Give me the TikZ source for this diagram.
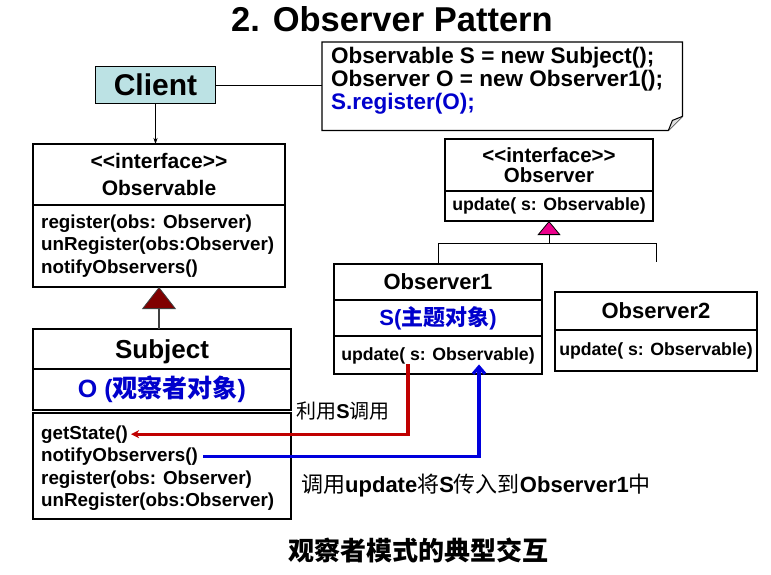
\documentclass[tikz,border=0pt]{standalone}
\usepackage{fontspec}
\setmainfont{Liberation Sans}
\newfontfamily\cjk{Noto Sans CJK SC}
\usetikzlibrary{arrows.meta, positioning}

\definecolor{clientteal}{RGB}{188,226,228}
\definecolor{umlred}{RGB}{128,0,0}
\definecolor{callred}{RGB}{192,0,0}
\definecolor{textblue}{RGB}{0,0,204}
\definecolor{lineblue}{RGB}{0,0,221}

\newcommand\setsz[2]{\fontsize{#1}{#2}\selectfont}
\newcommand\guil{<\kern0pt<interface>\kern0pt>}

\begin{document}
\begin{tikzpicture}[
  x=1pt, y=-1pt,
  classbox/.style={draw, line width=1.3pt, fill=white, inner sep=0pt, outer sep=0pt, align=center, font=\bfseries},
  methods/.style={inner sep=0pt, align=left, font=\bfseries\setsz{18.8}{22.5}},
  updtext/.style={inner sep=0pt, font=\bfseries\setsz{17.7}{20}},
  callline/.style={line width=3.2pt}
]
\useasboundingbox (0,0) rectangle (771,574);

\node[font=\bfseries\setsz{34.5}{34}] (title) at (392,19) {2. Observer Pattern};

% client and the code note
\node[draw, line width=1.3pt, fill=clientteal, minimum width=120pt, minimum height=37pt, font=\bfseries\setsz{30}{30}] (client) at (155.5,85) {Client};
\node[minimum width=360pt, minimum height=88pt, anchor=north west] (note) at (322,42) {};
\draw[line width=1.3pt] (note.north west) -- (note.north east) -- ([yshift=14pt]note.south east)
  -- ([xshift=-14pt]note.south east) -- (note.south west) -- cycle;
\draw[line width=1pt, fill=gray!25] ([xshift=-14pt]note.south east) -- ([xshift=-10pt,yshift=10pt]note.south east) -- ([yshift=14pt]note.south east);
\node[inner sep=0pt, anchor=north west, align=left, font=\bfseries\setsz{22.5}{23}] (code) at ([xshift=9pt,yshift=-5pt]note.north west)
  {Observable S = new Subject();\\Observer O = new Observer1();\\\textcolor{textblue}{S.register(O);}};
\draw[line width=1pt] (client.east) -- (client.east -| note.west);

% Observable interface
\node[classbox, anchor=north west, minimum width=252pt, minimum height=61pt, font=\bfseries\setsz{21}{27}] (obshead) at (33,144) {\guil\\Observable};
\node[classbox, below=0pt of obshead, minimum width=252pt, minimum height=82pt] (obsops) {};
\node[methods, anchor=west] (obsmeth) at ([xshift=8pt]obsops.west)
  {register(obs: Observer)\\unRegister(obs:Observer)\\notifyObservers()};
\draw[line width=1pt, -{Stealth[length=6pt, width=4pt]}] (client.south) -- (client.south |- obshead.north);

% Subject
\node[classbox, anchor=north west, minimum width=258pt, minimum height=40pt, text depth=0pt, font=\bfseries\setsz{26}{26}] (subjhead) at (33,329) {Subject};
\node[classbox, below=0pt of subjhead, minimum width=258pt, minimum height=41pt, font=\bfseries\setsz{25}{25}, text=textblue] (subjobs) {O ({\cjk 观察者对象})};
\node[classbox, below=3pt of subjobs, minimum width=258pt, minimum height=106pt] (subjops) {};
\node[methods, anchor=base west] (getstate) at ([xshift=8pt,yshift=-26pt]subjops.north west) {getState()};
\node[methods, anchor=base west] (notify) at ([yshift=-22.5pt]getstate.base west) {notifyObservers()};
\node[methods, anchor=base west] (register) at ([yshift=-22.5pt]notify.base west) {register(obs: Observer)};
\node[methods, anchor=base west] (unregister) at ([yshift=-22.5pt]register.base west) {unRegister(obs:Observer)};
\draw[line width=2pt, black!75, -{Triangle[length=22pt, width=34pt, fill=umlred, line width=0.8pt]}]
  (obsops.south |- subjhead.north) -- (obsops.south);

% Observer interface
\node[classbox, anchor=north west, minimum width=208pt, minimum height=52pt, font=\bfseries\setsz{20.5}{20}] (oihead) at (445,139) {\guil\\Observer};
\node[classbox, below=0pt of oihead, minimum width=208pt, minimum height=30pt] (oiops) {};
\node[updtext] (oiupdate) at (oiops) {update( s: Observable)};

% Observer1
\node[classbox, anchor=north west, minimum width=208pt, minimum height=36pt, font=\bfseries\setsz{22}{22}] (o1head) at (334,264) {Observer1};
\node[classbox, below=0pt of o1head, minimum width=208pt, minimum height=36pt, font=\bfseries\setsz{22}{22}, text=textblue] (o1state) {S({\cjk 主题对象})};
\node[classbox, below=0pt of o1state, minimum width=208pt, minimum height=38pt] (o1ops) {};
\node[updtext] (o1update) at ([yshift=-1pt]o1ops) {update( s: Observable)};

% Observer2
\node[classbox, anchor=north west, minimum width=202pt, minimum height=38pt, font=\bfseries\setsz{22}{22}] (o2head) at (555,292) {Observer2};
\node[classbox, below=0pt of o2head, minimum width=202pt, minimum height=41pt] (o2ops) {};
\node[updtext] (o2update) at (o2ops) {update( s: Observable)};

% realisation tree
\coordinate (bus) at (0,243);
\draw[line width=1pt, -{Triangle[length=14pt, width=23pt, fill=magenta, line width=0.8pt]}] (oiops.south |- bus) -- (oiops.south);
\draw[line width=1pt] (o1head.north) |- (o2head.north |- bus) -- ([yshift=30pt]o2head.north);

% call arrows
\coordinate (redx) at (408,0);
\coordinate (bluex) at (479,0);
\draw[callline, callred, -{Stealth[length=8pt, width=8pt]}, shorten >=3pt] (o1update.south -| redx) |- (getstate.east);
\draw[callline, lineblue, -{Straight Barb[length=7pt, width=12pt]}, shorten <=5pt] (notify.east) -| (o1update.south -| bluex);
\node[font=\bfseries\setsz{20}{20}] (lblcall) at (343,411) {{\cjk\mdseries 利用}S{\cjk\mdseries 调用}};
\node[font=\bfseries\setsz{22}{22}] (lblupdate) at (476,486) {{\cjk\mdseries 调用}update{\cjk\mdseries 将}S{\cjk\mdseries 传入到}Observer1{\cjk\mdseries 中}};

\node[font=\bfseries\setsz{26}{26}] (caption) at (418,550) {\cjk 观察者模式的典型交互};
\end{tikzpicture}
\end{document}
